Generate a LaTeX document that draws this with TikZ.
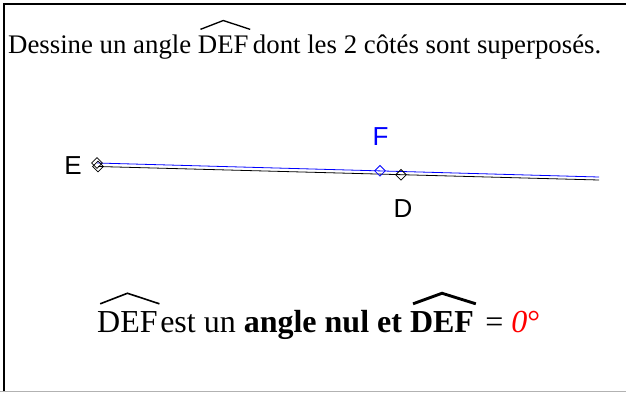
\documentclass[tikz,border=0pt]{standalone}
\usepackage{fontspec}
\setmainfont{Liberation Serif}
\newfontfamily\labelfont{Liberation Sans}
\usetikzlibrary{shapes.geometric}
\tikzset{
  pt/.style={diamond,draw,inner sep=0pt,minimum width=11pt,minimum height=11pt,line width=0.8pt},
  lab/.style={font=\labelfont\fontsize{26}{30}\selectfont,inner sep=0pt}
}
% angle name with a hat drawn over it
\newcommand{\arcangle}[2][0.05em]{\tikz[baseline=(t.base)]{\node[inner sep=0pt] (t) {#2};
  \draw[line width=#1] ([xshift=0.1em,yshift=0.22em]t.north west) -- ([yshift=0.55em]t.north) -- ([xshift=0.05em,yshift=0.22em]t.north east);}}
\begin{document}
\begin{tikzpicture}[x=1pt,y=-1pt]
\useasboundingbox (0,0) rectangle (626,392);
% frame
\draw[line width=2pt] (4,392) -- (4,4) -- (626,4);
\draw[gray!60,line width=1pt] (0,391.5) -- (626,391.5);
% title
\node[anchor=base west,inner sep=0pt,font=\fontsize{26.8}{30}\selectfont] (title) at (8,53)
  {Dessine un angle \arcangle{DEF}\hspace{0.08em}dont les 2 côtés sont superposés.};
% points
\coordinate (Eb) at (97,163);
\coordinate (Ek) at (98,166.5);
\coordinate (Fend) at (599,177);
\coordinate (Dend) at (599,180);
\draw[blue,line width=0.8pt] (Eb) -- (Fend);
\draw[line width=0.8pt] (Ek) -- (Dend);
\node[pt] (E1) at (Eb) {};
\node[pt] (E2) at (Ek) {};
\node[pt,blue] (F) at (380,170.8) {};
\node[pt] (D) at (401,174.8) {};
\node[lab] (Elab) at (73,166) {E};
\node[lab,blue] (Flab) at (380.5,136.5) {F};
\node[lab] (Dlab) at (403,208.5) {D};
% conclusion
\node[anchor=base west,inner sep=0pt,font=\fontsize{32}{36}\selectfont] (concl) at (97,332)
  {\arcangle{DEF}est un \textbf{angle nul et \arcangle[0.09em]{DEF}} = \textcolor{red}{\textit{0}°}};
\end{tikzpicture}
\end{document}
